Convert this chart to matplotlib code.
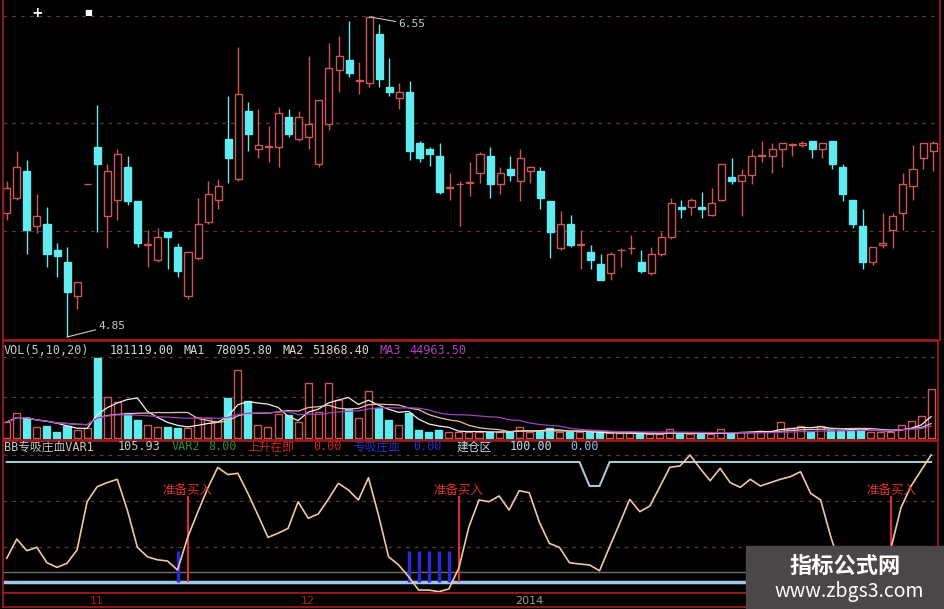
import numpy as np
import pandas as pd
import matplotlib
matplotlib.use('Agg')
import matplotlib.pyplot as plt
from matplotlib.patches import Rectangle

# 日K线 (开, 高, 低, 收)
opens = [5.51, 5.59, 5.73, 5.44, 5.45, 5.31, 5.25, 5.07, 5.66, 5.86,
         5.49, 5.58, 5.75, 5.57, 5.34, 5.26, 5.41, 5.33, 5.07, 5.27,
         5.46, 5.58, 5.90, 5.69, 6.05, 5.85, 5.86, 5.86, 6.02, 5.90,
         5.91, 5.77, 5.98, 6.27, 6.32, 6.21, 6.20, 6.46, 6.18, 6.12,
         6.15, 5.88, 5.85, 5.81, 5.64, 5.66, 5.67, 5.72, 5.81, 5.66,
         5.74, 5.68, 5.73, 5.73, 5.57, 5.32, 5.45, 5.34, 5.30, 5.24,
         5.19, 5.31, 5.32, 5.25, 5.19, 5.29, 5.38, 5.54, 5.54, 5.54,
         5.50, 5.58, 5.70, 5.68, 5.71, 5.81, 5.81, 5.85, 5.87, 5.87,
         5.89, 5.85, 5.89, 5.75, 5.58, 5.44, 5.25, 5.34, 5.42, 5.51,
         5.65, 5.80, 5.84]
highs = [5.68, 5.84, 5.79, 5.61, 5.54, 5.35, 5.33, 5.14, 5.66, 6.08,
         5.77, 5.85, 5.81, 5.57, 5.42, 5.43, 5.41, 5.35, 5.30, 5.59,
         5.68, 5.69, 6.13, 6.39, 6.10, 6.06, 5.97, 6.07, 6.06, 6.05,
         6.34, 6.11, 6.41, 6.45, 6.53, 6.31, 6.55, 6.51, 6.33, 6.20,
         6.21, 5.89, 5.86, 5.88, 5.72, 5.68, 5.78, 5.83, 5.86, 5.75,
         5.81, 5.85, 5.76, 5.75, 5.57, 5.52, 5.50, 5.42, 5.34, 5.29,
         5.30, 5.32, 5.39, 5.31, 5.33, 5.41, 5.59, 5.58, 5.59, 5.62,
         5.64, 5.77, 5.80, 5.74, 5.85, 5.89, 5.88, 5.88, 5.88, 5.89,
         5.89, 5.88, 5.89, 5.77, 5.58, 5.53, 5.33, 5.51, 5.51, 5.72,
         5.87, 5.88, 5.89]
lows = [5.47, 5.58, 5.29, 5.40, 5.22, 5.17, 4.85, 5.00, 5.66, 5.41,
        5.32, 5.47, 5.55, 5.33, 5.22, 5.25, 5.21, 5.17, 5.05, 5.26,
        5.45, 5.53, 5.67, 5.68, 5.84, 5.80, 5.78, 5.75, 5.91, 5.89,
        5.85, 5.75, 5.95, 6.15, 6.23, 6.14, 6.18, 6.18, 6.13, 6.06,
        5.79, 5.78, 5.76, 5.61, 5.58, 5.44, 5.60, 5.67, 5.59, 5.61,
        5.68, 5.57, 5.67, 5.53, 5.27, 5.31, 5.33, 5.21, 5.21, 5.15,
        5.15, 5.22, 5.29, 5.19, 5.18, 5.28, 5.37, 5.48, 5.50, 5.48,
        5.49, 5.57, 5.66, 5.49, 5.66, 5.78, 5.72, 5.75, 5.81, 5.86,
        5.80, 5.80, 5.74, 5.57, 5.43, 5.21, 5.23, 5.32, 5.32, 5.42,
        5.58, 5.74, 5.73]
closes = [5.64, 5.75, 5.42, 5.49, 5.29, 5.28, 5.09, 5.14, 5.66, 5.77,
          5.73, 5.82, 5.57, 5.35, 5.34, 5.38, 5.38, 5.20, 5.30, 5.45,
          5.61, 5.65, 5.80, 6.14, 5.93, 5.87, 5.86, 6.04, 5.93, 6.02,
          5.98, 6.11, 6.28, 6.34, 6.25, 6.21, 6.55, 6.22, 6.15, 6.15,
          5.84, 5.80, 5.82, 5.62, 5.64, 5.66, 5.67, 5.82, 5.66, 5.72,
          5.71, 5.80, 5.75, 5.59, 5.41, 5.45, 5.34, 5.34, 5.26, 5.15,
          5.29, 5.31, 5.32, 5.20, 5.29, 5.38, 5.56, 5.53, 5.58, 5.53,
          5.56, 5.77, 5.68, 5.71, 5.81, 5.81, 5.85, 5.88, 5.87, 5.88,
          5.85, 5.88, 5.77, 5.61, 5.45, 5.25, 5.33, 5.35, 5.49, 5.66,
          5.74, 5.88, 5.88]

# 成交量
volumes = [59000, 92000, 74000, 41000, 44000, 22000, 44000, 30000, 37000, 296000,
           152000, 133000, 92000, 67000, 48000, 41000, 41000, 37000, 37000, 78000,
           74000, 63000, 148000, 251000, 137000, 48000, 41000, 89000, 85000, 59000,
           203000, 96000, 203000, 140000, 107000, 74000, 174000, 111000, 67000, 48000,
           92000, 30000, 22000, 30000, 22000, 22000, 23000, 23000, 23000, 21000,
           23000, 42000, 23000, 26000, 36000, 21000, 21000, 21000, 21000, 17000,
           17000, 17000, 17000, 14000, 14000, 14000, 33000, 14000, 14000, 14000,
           14000, 33000, 17000, 23000, 23000, 26000, 26000, 58000, 38000, 45000,
           23000, 45000, 30000, 30000, 30000, 30000, 23000, 23000, 23000, 48000,
           63000, 82000, 181119]

# BB专吸庄血 指标
var1 = [19.7, 35.8, 26.1, 28.9, 16.1, 12.2, 15.6, 26.7, 66.9, 79.4,
        82.8, 85.6, 60.0, 29.0, 21.0, 18.5, 17.5, 10.0, 37.0, 58.0,
        78.0, 95.5, 89.5, 90.6, 73.9, 55.8, 37.2, 40.6, 44.7, 66.9,
        53.1, 56.7, 68.9, 82.2, 76.7, 68.3, 86.9, 55.8, 21.1, 14.2,
        4.4, -6.7, -6.7, -8.1, -5.8, 11.7, 46.1, 68.3, 66.9, 71.7,
        60.0, 76.1, 74.4, 50.0, 32.2, 28.9, 16.1, 15.0, 14.2, 9.4,
        29.4, 48.9, 68.9, 58.6, 63.3, 79.4, 95.6, 96.7, 105.8, 94.7,
        84.4, 94.7, 82.8, 78.9, 85.6, 80.0, 82.8, 85.6, 87.8, 91.9,
        73.9, 68.3, 38.0, 12.0, 0.0, -5.0, -7.0, -4.0, 28.0, 62.0,
        80.0, 93.0, 105.93]
jcq = [100.0] * 58 + [80.0, 80.0] + [100.0] * 33
var2 = 8.0
buy_idx = [18, 45, 88]
xsxx_idx = [17, 40, 41, 42, 43, 44]
xsxx_val = 26.0
buy_top = 72.0

month_labels = ['11', '12', '2014']
month_idx = [9, 30, 52]

plt.rcParams['font.family'] = ['DejaVu Sans Mono', 'Noto Sans CJK SC']

W, H = 945, 609
fig = plt.figure(figsize=(W / 100, H / 100), dpi=100, facecolor='black')

def box(x0, y0, x1, y1):
    return [x0 / W, 1 - y1 / H, (x1 - x0) / W, (y1 - y0) / H]

BORDER = '#9a1a1a'
RED = '#d05656'
CYAN = '#62eaee'
GRID = '#5a3838'

ax = fig.add_axes(box(3, -2, 940, 340))
axv = fig.add_axes(box(3, 341, 938, 440), sharex=ax)
axi = fig.add_axes(box(3, 441, 938, 593), sharex=ax)
axd = fig.add_axes(box(3, 593, 938, 607), sharex=ax)

for a in (ax, axv, axi, axd):
    a.set_facecolor('black')
    for s in a.spines.values():
        s.set_color(BORDER)
        s.set_linewidth(1.3)
    a.tick_params(left=False, bottom=False, labelleft=False, labelbottom=False)
ax.spines['top'].set_visible(False)

n = len(opens)
x = np.arange(n)
o = np.array(opens); c = np.array(closes); hi = np.array(highs); lo = np.array(lows)
up = c >= o
col = np.where(up, RED, CYAN)

# K线
top = np.maximum(o, c); bot = np.minimum(o, c)
ax.vlines(x, top, hi, colors=col, lw=1)
ax.vlines(x, lo, bot, colors=col, lw=1)
ax.bar(x, np.maximum(top - bot, 0.004), bottom=bot, width=0.7,
       color=np.where(up, 'black', CYAN), edgecolor=col, lw=1)
for g in [6.555, 5.987, 5.413]:
    ax.axhline(g, color=GRID, lw=0.9, ls=(0, (3, 4)), zorder=0)
ax.set_xlim(-0.37, 92.68)
ax.set_ylim(4.834, 6.65)

lo_i = int(np.argmin(lo)); hi_i = int(np.argmax(hi))
ax.annotate('4.85', xy=(lo_i, lo[lo_i]), xytext=(9.1, 4.91), color='#c8c8c8',
            fontsize=8, ha='left', va='center',
            arrowprops=dict(arrowstyle='-', color='#c8c8c8', lw=0.8, shrinkA=0, shrinkB=0))
ax.annotate('6.55', xy=(hi_i, hi[hi_i]), xytext=(38.9, 6.51), color='#c8c8c8',
            fontsize=8, ha='left', va='center',
            arrowprops=dict(arrowstyle='-', color='#c8c8c8', lw=0.8, shrinkA=0, shrinkB=0))
fig.text(37 / W, 1 - 13 / H, '+', color='white', fontsize=10, fontweight='bold',
         ha='center', va='center', family='DejaVu Sans')
fig.text(88 / W, 1 - 12 / H, '■', color='white', fontsize=6,
         ha='center', va='center', family='DejaVu Sans')

# 成交量
v = pd.Series(volumes, dtype=float)
axv.bar(x, v, width=0.7, color=np.where(up, 'black', CYAN), edgecolor=col, lw=1)
axv.plot(x, v.rolling(5, min_periods=1).mean(), color='#f0f0f0', lw=0.9)
axv.plot(x, v.rolling(10, min_periods=1).mean(), color='#e8c0b0', lw=0.9)
axv.plot(x, v.rolling(20, min_periods=1).mean(), color='#a040c0', lw=0.9)
for g in [150000, 300000]:
    axv.axhline(g, color=GRID, lw=0.9, ls=(0, (3, 4)), zorder=0)
axv.set_ylim(-7392, 358500)

vol_head = [('VOL(5,10,20)', 4, '#c8c8c8'), ('181119.00', 110, '#d8d8d8'),
            ('MA1', 184, '#d8d8d8'), ('78095.80', 215, '#d8d8d8'),
            ('MA2', 283, '#e0d8c8'), ('51868.40', 312, '#e0d8c8'),
            ('MA3', 380, '#b040c0'), ('44963.50', 409, '#b040c0')]
for t, px, cc in vol_head:
    fig.text(px / W, 1 - 350 / H, t, color=cc, fontsize=8.5, ha='left', va='center')

# 指标
axi.axhline(0, color='#9cc8f0', lw=2.5)
axi.axhline(var2, color='#68705f', lw=1)
axi.plot(x, jcq, color='#a8c8d0', lw=1.5)
for g in [29.4, 67.75, 105.8]:
    axi.axhline(g, color=GRID, lw=0.9, ls=(0, (3, 4)), zorder=0)
axi.vlines(xsxx_idx, 0, xsxx_val, colors='#2a2ad0', lw=2.5)
axi.vlines(buy_idx, 0, buy_top, colors='#d83030', lw=1.5)
for b in buy_idx:
    axi.text(b, buy_top + 4, '准备买入', color='#d83030', fontsize=9,
             ha='center', va='center', family='Noto Sans CJK SC')
axi.plot(x, var1, color='#f0c8a0', lw=1.2)
axi.set_ylim(-9.17, 117.5)

ind_head = [('BB专吸庄血VAR1', 4, '#c8c8c8'), ('105.93', 118, '#c8c8c8'),
            ('VAR2', 172, '#2e8b3e'), ('8.00', 208, '#2e8b3e'),
            ('上升在即', 247, '#d02525'), ('0.00', 313, '#d02525'),
            ('专吸庄血', 353, '#2a2ac8'), ('0.00', 413, '#2a2ac8'),
            ('建仓区', 457, '#c0dde8'), ('100.00', 510, '#c0dde8'),
            ('0.00', 570, '#8fb8e0')]
for t, px, cc in ind_head:
    fig.text(px / W, 1 - 447 / H, t, color=cc, fontsize=8.5, ha='left', va='center')

# 日期
axd.set_ylim(0, 1)
for lab, i in zip(month_labels, month_idx):
    axd.text(i, 0.45, lab, color='#b02020' if lab != '2014' else '#a09898',
             fontsize=8, ha='center', va='center', family='DejaVu Sans')

# 水印
fig.patches.append(Rectangle((746 / W, 0), 200 / W, (609 - 546) / H,
                             transform=fig.transFigure, color='#4b4647', zorder=10))
fig.text(845 / W, 1 - 566 / H, '指标公式网', color='white', fontsize=16,
         fontweight='bold', ha='center', va='center', family='Noto Sans CJK SC', zorder=11)
fig.text(849 / W, 1 - 591 / H, 'www.zbgs3.com', color='white', fontsize=14,
         ha='center', va='center', family='Noto Sans CJK SC', zorder=11)

fig.savefig('out.png', dpi=100, facecolor='black')
